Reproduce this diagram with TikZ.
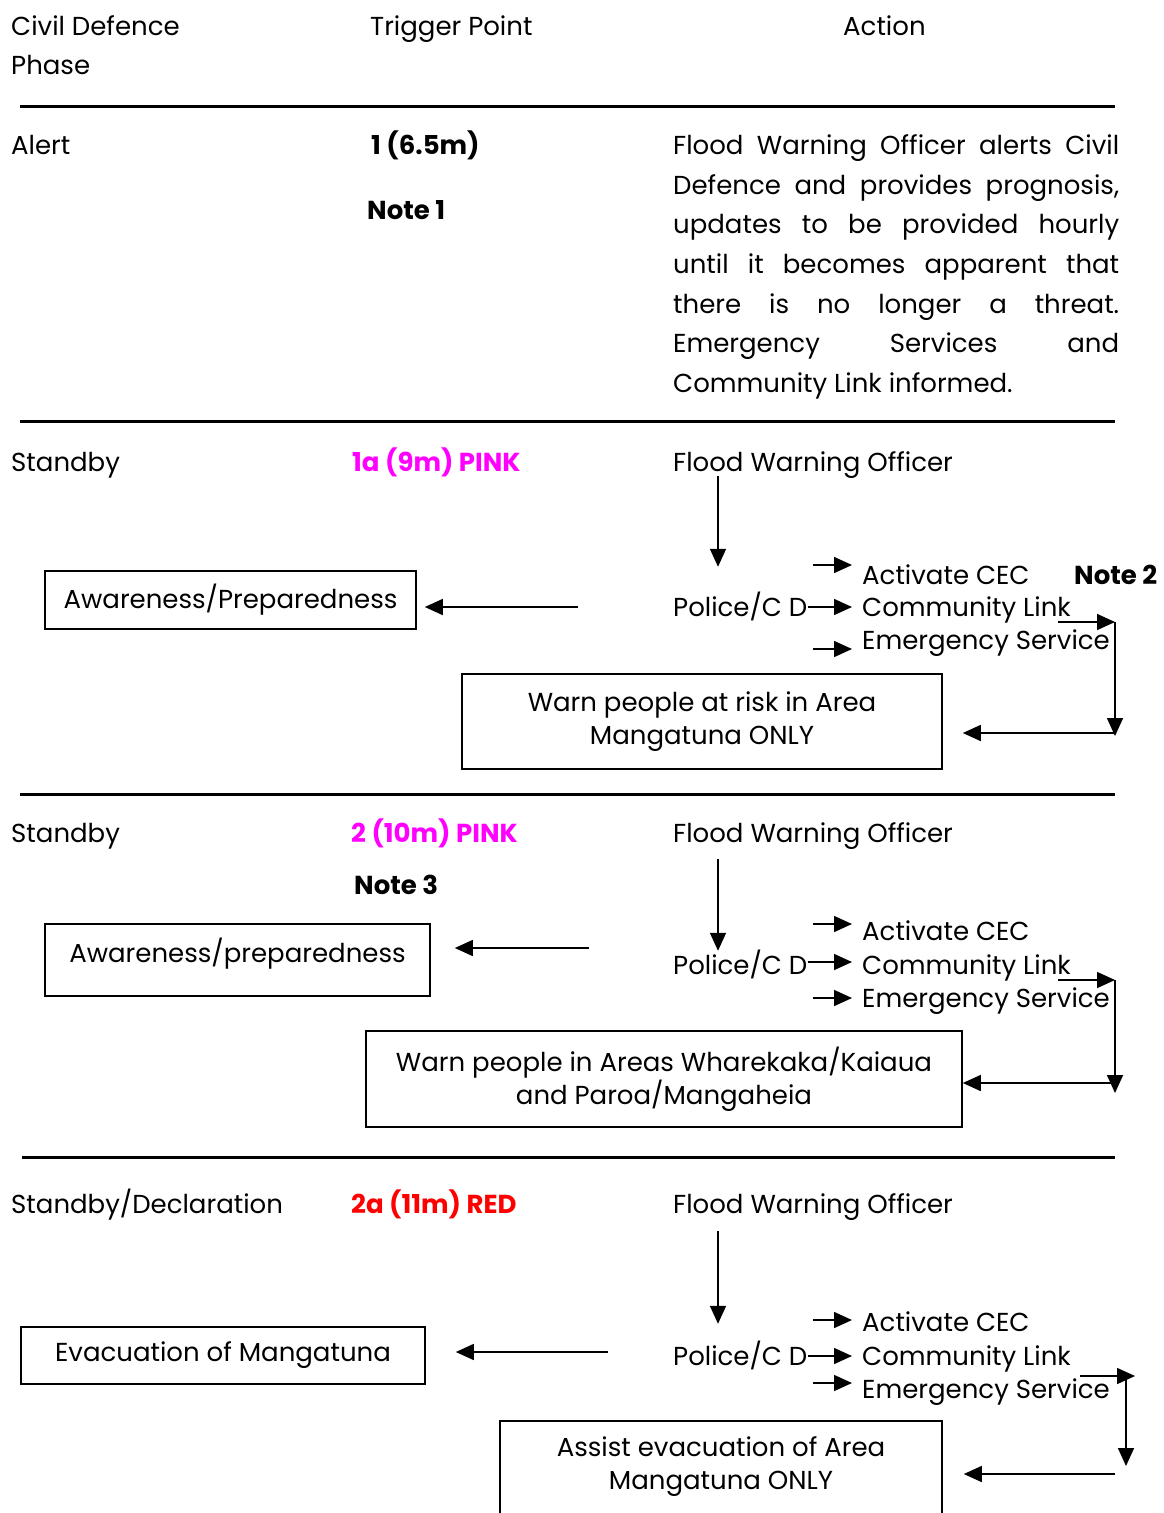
\documentclass[tikz,border=0pt]{standalone}
\usepackage{fontspec}
\setmainfont{Poppins}
\usetikzlibrary{arrows.meta,calc}
\definecolor{pinkc}{RGB}{255,0,255}
\definecolor{redc}{RGB}{255,0,0}
\newcommand{\mysz}{\fontsize{26}{33}\selectfont}
\begin{document}
\begin{tikzpicture}[x=1pt,y=-1pt,
  txt/.style={anchor=west,inner sep=0pt,font=\mysz,text height=18pt,text depth=0pt},
  btxt/.style={txt,font=\mysz\bfseries},
  boxn/.style={draw,line width=1.6pt,inner sep=0pt,font=\mysz,align=center},
  arr/.style={line width=1.6pt,-{Triangle[length=18pt,width=16pt]}},
  rule/.style={line width=3pt}]
\useasboundingbox (0,0) rectangle (1163,1513);
\clip (0,0) rectangle (1163,1513);
% header
\node[txt] (h1) at (11,26) {Civil Defence};
\node[txt] (h1b) at (11,65) {Phase};
\node[txt] (h2) at (370,26) {Trigger Point};
\node[txt] (h3) at (843,26) {Action};
\coordinate (r1a) at (20,106); \coordinate (r1b) at (1115,106);
\draw[rule] (r1a) -- (r1b);
% Alert
\node[txt] (alert) at (11,145) {Alert};
\node[btxt] (t1) at (371,145) {1 (6.5m)};
\node[btxt] (n1) at (367,210) {Note 1};
\node[txt] (p1) at (673,145) {\makebox[446pt][s]{Flood Warning Officer alerts Civil}};
\node[txt] (p2) at (673,185) {\makebox[446pt][s]{Defence and provides prognosis,}};
\node[txt] (p3) at (673,224) {\makebox[446pt][s]{updates to be provided hourly}};
\node[txt] (p4) at (673,264) {\makebox[446pt][s]{until it becomes apparent that}};
\node[txt] (p5) at (673,304) {\makebox[446pt][s]{there is no longer a threat.}};
\node[txt] (p6) at (673,343) {\makebox[446pt][s]{Emergency Services and}};
\node[txt] (p7) at (673,383) {Community Link informed.};
\coordinate (r2a) at (20,421); \coordinate (r2b) at (1115,421);
\draw[rule] (r2a) -- (r2b);
% Section 2
\node[txt] (s2) at (11,462) {Standby};
\node[btxt,text=pinkc] (t2) at (352,462) {1a (9m) PINK};
\node[txt] (f2) at (673,462) {Flood Warning Officer};
\node[txt] (pol2) at (673,607) {Police/C D};
\node[txt] (act2) at (862,575) {Activate CEC};
\node[btxt] (n2) at (1074,575) {Note 2};
\node[txt] (lnk2) at (862,607) {Community Link};
\node[txt] (em2) at (862,640) {Emergency Service};
\node[boxn,minimum width=371pt,minimum height=58pt] (aw2) at (230.5,600) {Awareness/Preparedness};
\node[boxn,minimum width=480pt,minimum height=95pt] (wr2) at (702,721.5) {Warn people at risk in Area\\Mangatuna ONLY};
\draw[arr] ([xshift=45pt,yshift=-5pt]f2.south west) -- ([xshift=45pt,yshift=31pt]pol2.north west);
\draw[arr,shorten >=10pt] (pol2.east) -- (lnk2.west |- pol2.east);
\draw[arr] ([xshift=-49pt,yshift=10pt]act2.west) -- ([xshift=-10pt,yshift=10pt]act2.west);
\draw[arr] ([xshift=-49pt,yshift=-9pt]em2.west) -- ([xshift=-10pt,yshift=-9pt]em2.west);
\coordinate (a2s) at (578,607);
\draw[arr,shorten >=8pt] (a2s) -- (aw2.east |- a2s);
\coordinate (k2a) at (1058,622); \coordinate (k2b) at (1115,622); \coordinate (k2c) at (1115,736); \coordinate (k2d) at (1115,733);
\draw[arr] (k2a) -- (k2b);
\draw[arr] (k2b) -- (k2c);
\draw[arr,shorten >=20pt] (k2d) -- (wr2.east |- k2d);
\coordinate (r3a) at (20,794); \coordinate (r3b) at (1115,794);
\draw[rule] (r3a) -- (r3b);
% Section 3
\node[txt] (s3) at (11,833) {Standby};
\node[btxt,text=pinkc] (t3) at (351,833) {2 (10m) PINK};
\node[btxt] (n3) at (354,885) {Note 3};
\node[txt] (f3) at (673,833) {Flood Warning Officer};
\node[txt] (pol3) at (673,965) {Police/C D};
\node[txt] (act3) at (862,931) {Activate CEC};
\node[txt] (lnk3) at (862,965) {Community Link};
\node[txt] (em3) at (862,998) {Emergency Service};
\node[draw,line width=1.6pt,inner sep=0pt,font=\mysz,text height=18pt,text depth=14pt,minimum width=385pt,minimum height=72pt] (aw3) at (237.5,960) {Awareness/preparedness};
\node[boxn,minimum width=596pt,minimum height=96pt] (wr3) at (664,1079) {Warn people in Areas Wharekaka/Kaiaua\\and Paroa/Mangaheia};
\draw[arr] ([xshift=45pt,yshift=-17pt]f3.south west) -- ([xshift=45pt,yshift=5pt]pol3.north west);
\coordinate (pe3) at ([yshift=3pt]pol3.east);
\draw[arr,shorten >=10pt] (pe3) -- (lnk3.west |- pe3);
\draw[arr] ([xshift=-49pt,yshift=7pt]act3.west) -- ([xshift=-10pt,yshift=7pt]act3.west);
\draw[arr] ([xshift=-49pt]em3.west) -- ([xshift=-10pt]em3.west);
\coordinate (a3s) at (589,948);
\draw[arr,shorten >=24pt] (a3s) -- (aw3.east |- a3s);
\coordinate (k3a) at (1058,980); \coordinate (k3b) at (1115,980); \coordinate (k3c) at (1115,1093); \coordinate (k3d) at (1115,1083);
\draw[arr] (k3a) -- (k3b);
\draw[arr] (k3b) -- (k3c);
\draw[arr] (k3d) -- (wr3.east |- k3d);
\coordinate (r4a) at (22,1157); \coordinate (r4b) at (1115,1157);
\draw[rule] (r4a) -- (r4b);
% Section 4
\node[txt] (s4) at (11,1204) {Standby/Declaration};
\node[btxt,text=redc] (t4) at (351,1204) {2a (11m) RED};
\node[txt] (f4) at (673,1204) {Flood Warning Officer};
\node[txt] (pol4) at (673,1356) {Police/C D};
\node[txt] (act4) at (862,1322) {Activate CEC};
\node[txt] (lnk4) at (862,1356) {Community Link};
\node[txt] (em4) at (862,1389) {Emergency Service};
\node[boxn,minimum width=404pt,minimum height=57pt] (ev4) at (223,1355.5) {Evacuation of Mangatuna};
\node[draw,line width=1.6pt,minimum width=442pt,minimum height=190pt,inner sep=0pt] (as4) at (721,1516) {};
\node[inner sep=0pt,font=\mysz,align=center] (as4t) at (721,1467) {Assist evacuation of Area\\Mangatuna ONLY};
\draw[arr] ([xshift=45pt,yshift=-18pt]f4.south west) -- ([xshift=45pt,yshift=23pt]pol4.north west);
\draw[arr,shorten >=10pt] (pol4.east) -- (lnk4.west |- pol4.east);
\draw[arr] ([xshift=-49pt,yshift=2pt]act4.west) -- ([xshift=-10pt,yshift=2pt]act4.west);
\draw[arr] ([xshift=-49pt,yshift=6pt]em4.west) -- ([xshift=-10pt,yshift=6pt]em4.west);
\coordinate (a4s) at (608,1352);
\draw[arr,shorten >=30pt] (a4s) -- (ev4.east |- a4s);
\coordinate (k4a) at (1080,1376); \coordinate (k4b) at (1135,1376); \coordinate (k4c) at (1126,1376); \coordinate (k4d) at (1126,1466);
\coordinate (k4e) at (1115,1474);
\draw[arr] (k4a) -- (k4b);
\draw[arr] (k4c) -- (k4d);
\draw[arr,shorten >=21pt] (k4e) -- (as4.east |- k4e);
\end{tikzpicture}
\end{document}
